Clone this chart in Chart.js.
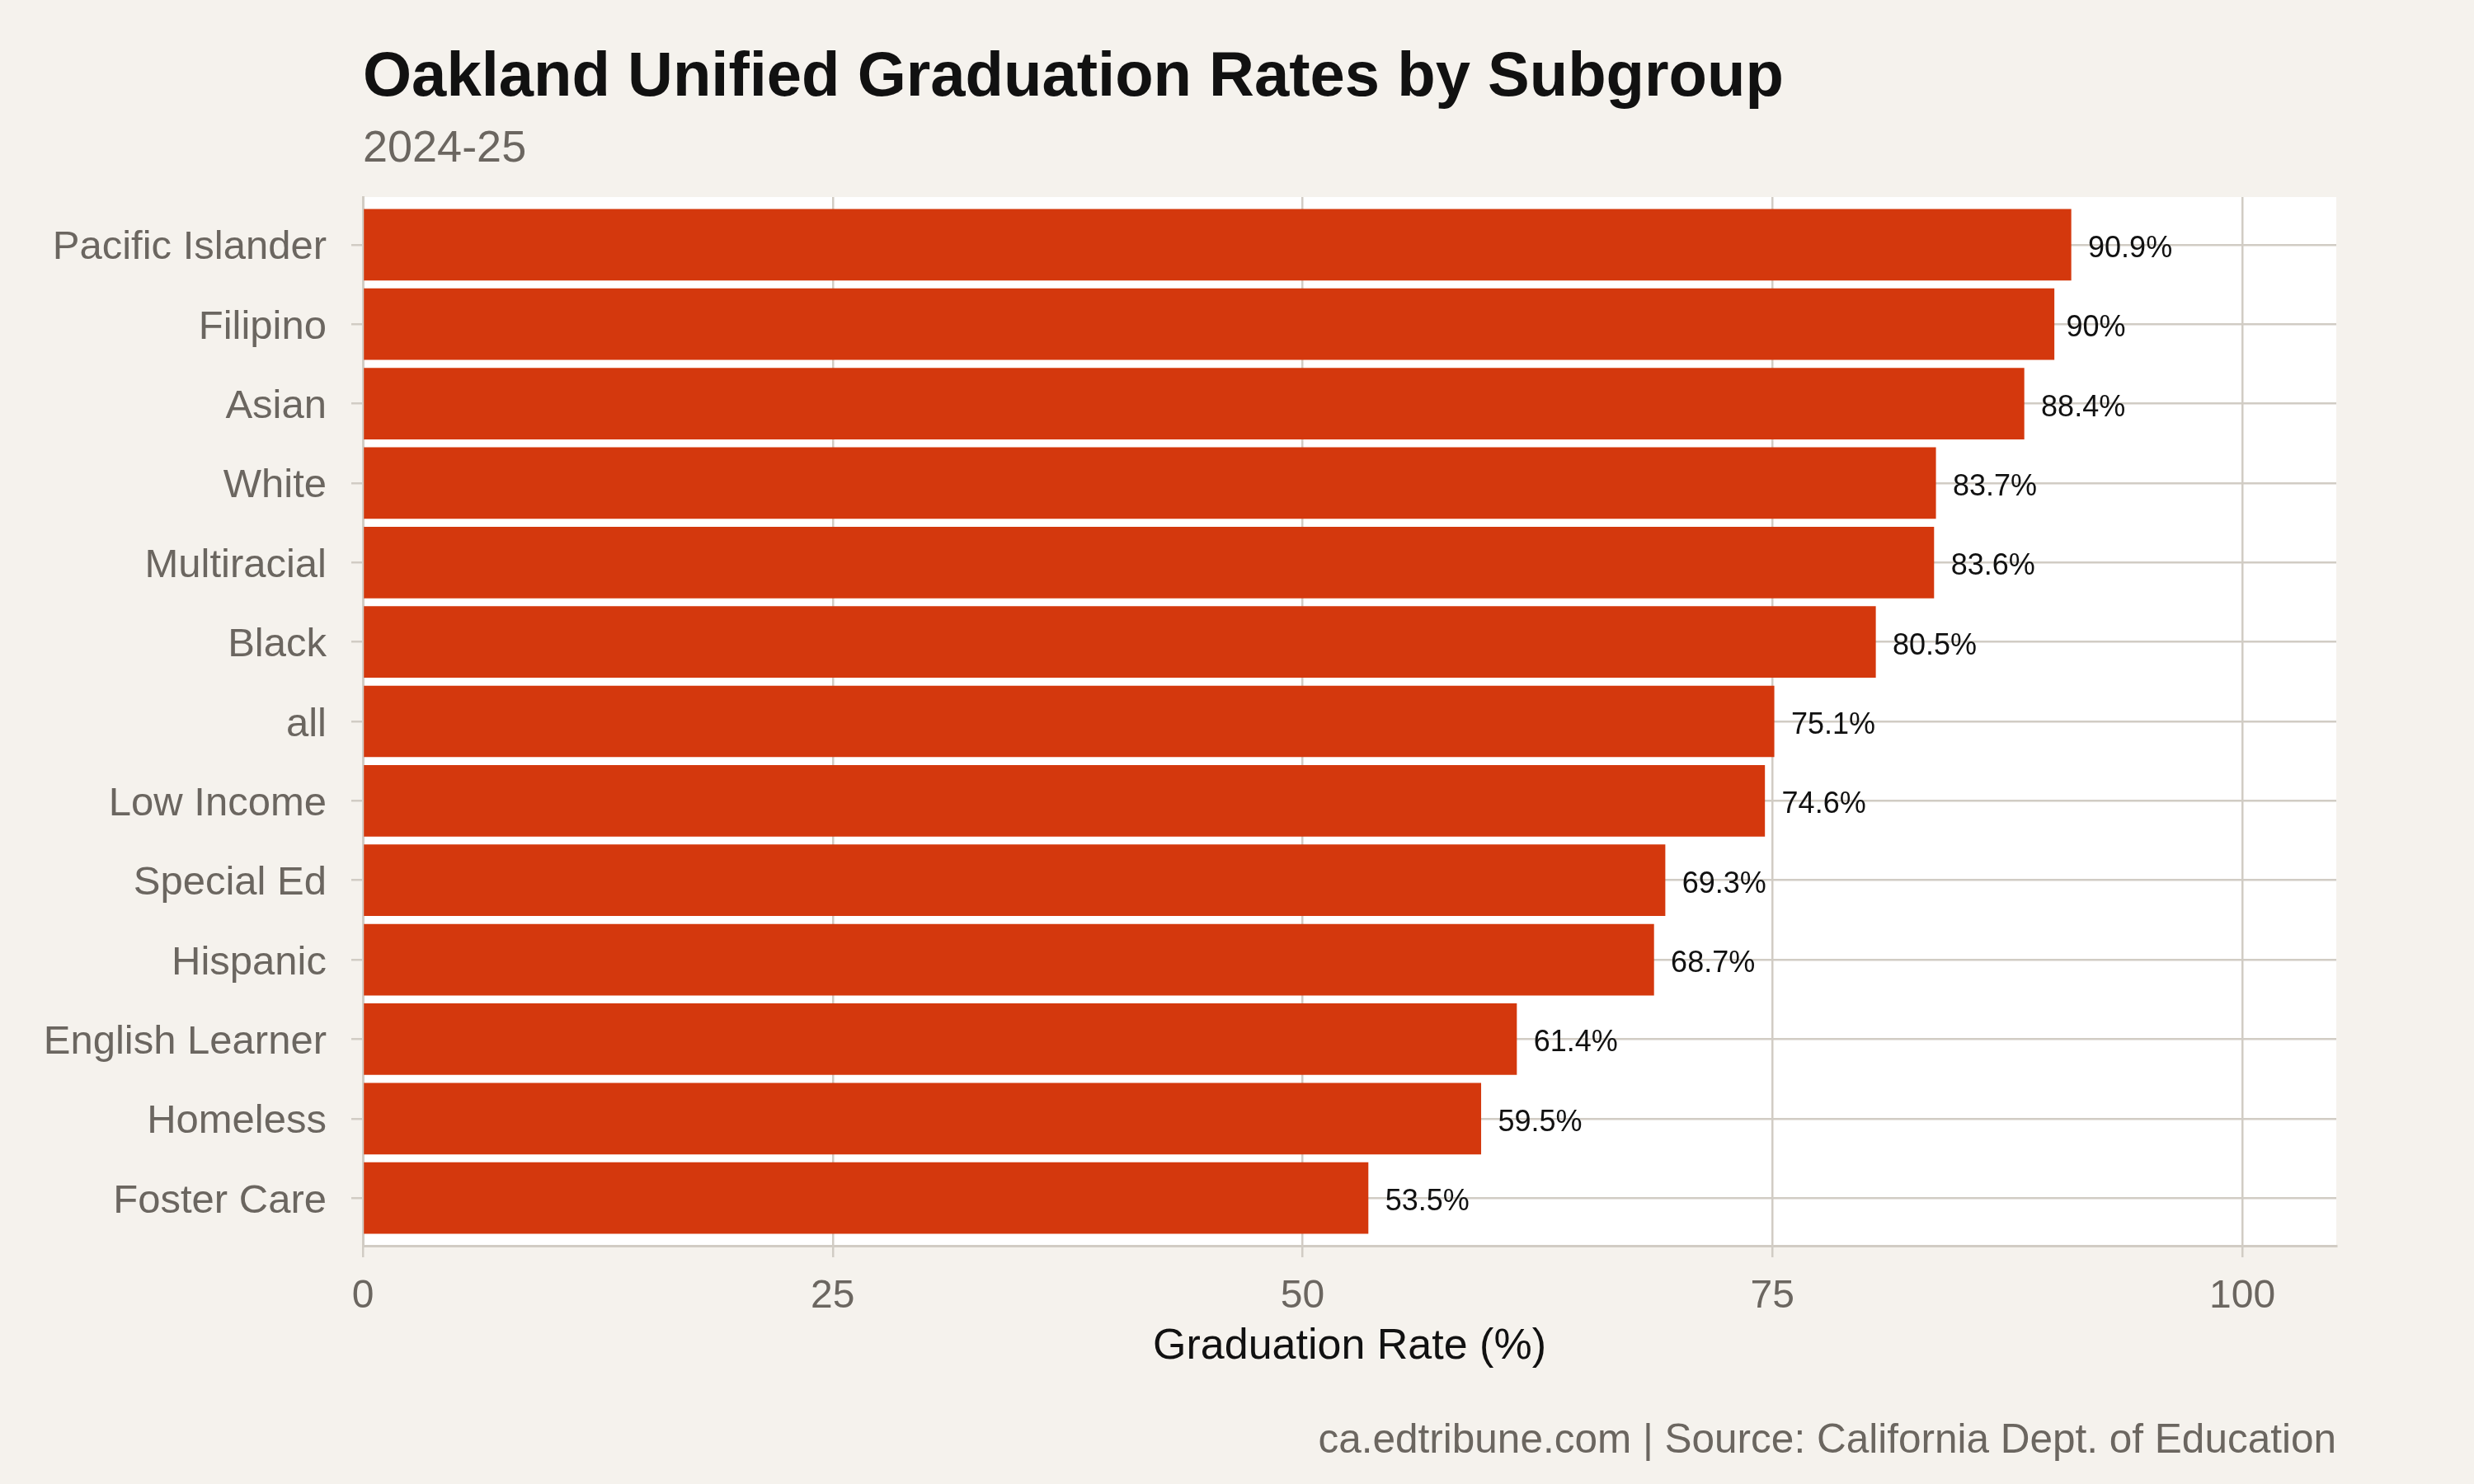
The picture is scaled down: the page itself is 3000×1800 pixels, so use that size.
<!DOCTYPE html>
<html>
<head>
<meta charset="utf-8">
<title>Oakland Unified Graduation Rates by Subgroup</title>
<script src="https://cdn.jsdelivr.net/npm/chart.js@4.4.1/dist/chart.umd.min.js"></script>
<style>
  html, body { margin: 0; padding: 0; background: #f5f2ed; }
  #wrap { width: 3000px; height: 1800px; }
</style>
</head>
<body>
<div id="wrap"><canvas id="gradChart" width="3000" height="1800"></canvas></div>
<script>
// data (top to bottom)
const subgroups = [
  "Pacific Islander", "Filipino", "Asian", "White", "Multiracial", "Black", "all",
  "Low Income", "Special Ed", "Hispanic", "English Learner", "Homeless", "Foster Care",
];
const gradRates = [90.9, 90, 88.4, 83.7, 83.6, 80.5, 75.1, 74.6, 69.3, 68.7, 61.4, 59.5, 53.5];
const xTicks = [0, 25, 50, 75, 100];

const FONT = "'Liberation Sans', Arial, Helvetica, sans-serif";
const BG = "#f5f2ed";
const BAR = "#d4380d";
const GRID = "#d1ccc4";
const AXIS_TEXT = "#6b6660";

Chart.defaults.font.family = FONT;

// page background + white panel behind the bars
const panelBackground = {
  id: "panelBackground",
  beforeDraw(chart) {
    const { ctx, chartArea } = chart;
    ctx.save();
    ctx.fillStyle = BG;
    ctx.fillRect(0, 0, chart.width, chart.height);
    ctx.fillStyle = "#ffffff";
    ctx.fillRect(chartArea.left, chartArea.top, chartArea.right - chartArea.left, chartArea.bottom - chartArea.top);
    ctx.restore();
  },
};

// "90.9%" labels just past the end of each bar
const barValueLabels = {
  id: "barValueLabels",
  afterDatasetsDraw(chart) {
    const ctx = chart.ctx;
    const meta = chart.getDatasetMeta(0);
    ctx.save();
    ctx.font = "36px " + FONT;
    ctx.fillStyle = "#111111";
    ctx.textAlign = "left";
    ctx.textBaseline = "alphabetic";
    meta.data.forEach((bar, i) => {
      const text = gradRates[i] + "%";
      const w = ctx.measureText(text).width;
      ctx.fillText(text, bar.x + 0.2 * w, bar.y + 15);
    });
    ctx.restore();
  },
};

// source line bottom right
const caption = {
  id: "caption",
  afterDraw(chart) {
    const ctx = chart.ctx;
    ctx.save();
    ctx.font = "49.5px " + FONT;
    ctx.fillStyle = AXIS_TEXT;
    ctx.textAlign = "right";
    ctx.textBaseline = "alphabetic";
    ctx.fillText("ca.edtribune.com | Source: California Dept. of Education", chart.chartArea.right, 1762);
    ctx.restore();
  },
};

const ctx = document.getElementById("gradChart").getContext("2d");
const gradChart = new Chart(ctx, {
  type: "bar",
  data: {
    datasets: [
      {
        data: gradRates.map((v, i) => ({ x: v, y: i })),
        backgroundColor: BAR,
        borderWidth: 0,
        barPercentage: 0.9,
        categoryPercentage: 1.0,
      },
    ],
  },
  options: {
    indexAxis: "y",
    responsive: false,
    devicePixelRatio: 1,
    animation: false,
    layout: {
      padding: { top: 0, left: 0, right: 167, bottom: 135 },
    },
    scales: {
      x: {
        type: "linear",
        min: 0,
        max: 105,
        afterBuildTicks: (scale) => {
          scale.ticks = xTicks.map((v) => ({ value: v }));
        },
        afterFit: (scale) => {
          scale.height = 154;
        },
        ticks: {
          color: AXIS_TEXT,
          font: { size: 48 },
          padding: 19,
        },
        grid: { color: GRID, lineWidth: 2.5, tickLength: 14 },
        border: { display: true, color: GRID, width: 3 },
        title: {
          display: true,
          text: "Graduation Rate (%)",
          color: "#111111",
          font: { size: 52 },
          padding: 0,
        },
      },
      y: {
        type: "linear",
        reverse: true,
        offset: false,
        min: -0.6,
        max: subgroups.length - 0.4,
        afterBuildTicks: (scale) => {
          scale.ticks = subgroups.map((_, i) => ({ value: i }));
        },
        afterFit: (scale) => {
          scale.width = 440;
        },
        ticks: {
          autoSkip: false,
          color: AXIS_TEXT,
          font: { size: 49 },
          padding: 30,
          labelOffset: 4,
          callback: (value) => subgroups[value],
        },
        grid: { offset: false, color: GRID, lineWidth: 2.5, tickLength: 14 },
        border: { display: true, color: GRID, width: 3 },
      },
    },
    plugins: {
      legend: { display: false },
      tooltip: { enabled: false },
      title: {
        display: true,
        text: "Oakland Unified Graduation Rates by Subgroup",
        align: "start",
        fullSize: false,
        color: "#111111",
        font: { size: 76, weight: "bold" },
        padding: { top: 49, bottom: 0 },
      },
      subtitle: {
        display: true,
        text: "2024-25",
        align: "start",
        fullSize: false,
        color: AXIS_TEXT,
        font: { size: 54 },
        padding: { top: 9, bottom: 25 },
      },
    },
  },
  plugins: [panelBackground, barValueLabels, caption],
});
</script>
</body>
</html>
